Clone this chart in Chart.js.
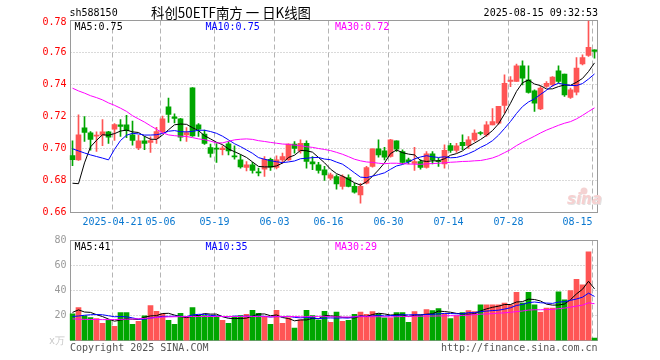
<!DOCTYPE html>
<html><head><meta charset="utf-8">
<script src="https://cdn.jsdelivr.net/npm/chart.js@4.4.1/dist/chart.umd.min.js"></script>
<style>
html,body{margin:0;padding:0;background:#fff;}
#wrap{position:relative;width:660px;height:360px;overflow:hidden;background:#fff;}
#wrap canvas{position:absolute;left:0;}
</style></head><body>
<div id="wrap">
<canvas id="pc" width="660" height="232" style="top:0px"></canvas>
<canvas id="vc" width="660" height="128" style="top:232px"></canvas>
</div>
<script>
// ---------------- DATA ----------------
const dates = [
'2025-04-10','2025-04-11','2025-04-14','2025-04-15','2025-04-16','2025-04-17','2025-04-18','2025-04-21','2025-04-22','2025-04-23',
'2025-04-24','2025-04-25','2025-04-28','2025-04-29','2025-04-30','2025-05-06','2025-05-07','2025-05-08','2025-05-09','2025-05-12',
'2025-05-13','2025-05-14','2025-05-15','2025-05-16','2025-05-19','2025-05-20','2025-05-21','2025-05-22','2025-05-23','2025-05-26',
'2025-05-27','2025-05-28','2025-05-29','2025-05-30','2025-06-03','2025-06-04','2025-06-05','2025-06-06','2025-06-09','2025-06-10',
'2025-06-11','2025-06-12','2025-06-13','2025-06-16','2025-06-17','2025-06-18','2025-06-19','2025-06-20','2025-06-23','2025-06-24',
'2025-06-25','2025-06-26','2025-06-27','2025-06-30','2025-07-01','2025-07-02','2025-07-03','2025-07-04','2025-07-07','2025-07-08',
'2025-07-09','2025-07-10','2025-07-11','2025-07-14','2025-07-15','2025-07-16','2025-07-17','2025-07-18','2025-07-21','2025-07-22',
'2025-07-23','2025-07-24','2025-07-25','2025-07-28','2025-07-29','2025-07-30','2025-07-31','2025-08-01','2025-08-04','2025-08-05',
'2025-08-06','2025-08-07','2025-08-08','2025-08-11','2025-08-12','2025-08-13','2025-08-14','2025-08-15'];

const openP = [0.6956,0.6929,0.7129,0.7098,0.7077,0.7083,0.7104,0.7121,0.7148,0.7148,
0.7085,0.7004,0.7048,0.7038,0.7063,0.7104,0.726,0.7198,0.7185,0.7085,
0.7379,0.7148,0.709,0.7006,0.6998,0.6992,0.7029,0.6952,0.6929,0.6881,
0.6898,0.6852,0.6871,0.6933,0.6881,0.6929,0.6929,0.7027,0.6985,0.7033,
0.6917,0.6898,0.6867,0.6815,0.6825,0.6763,0.6819,0.6763,0.671,0.6783,
0.6888,0.6998,0.6985,0.695,0.7048,0.6981,0.6929,0.6906,0.6919,0.6881,
0.6967,0.6921,0.6904,0.7019,0.6988,0.7038,0.7019,0.7054,0.7098,0.7085,
0.7148,0.7158,0.7269,0.7419,0.7419,0.7517,0.7429,0.736,0.7248,0.7388,
0.7398,0.7485,0.7465,0.7319,0.7352,0.7529,0.7581,0.7617];

const closeP = [0.693,0.7085,0.710,0.7056,0.7083,0.7104,0.7071,0.715,0.7138,0.7112,
0.705,0.7048,0.7031,0.705,0.7106,0.7185,0.7213,0.7188,0.7071,0.710,
0.7079,0.7121,0.7031,0.6969,0.6996,0.7002,0.6985,0.6948,0.6885,0.6898,
0.6863,0.6848,0.6933,0.6883,0.6929,0.695,0.7027,0.700,0.7033,0.6919,
0.6904,0.6863,0.6835,0.6835,0.6779,0.6825,0.6763,0.6727,0.6763,0.6881,
0.6998,0.696,0.6946,0.7054,0.6996,0.6913,0.6917,0.6919,0.6881,0.6967,
0.6929,0.6917,0.6988,0.6988,0.7017,0.7017,0.7054,0.7096,0.7094,0.7148,
0.7169,0.7263,0.7408,0.7427,0.7517,0.744,0.735,0.7283,0.7377,0.7408,
0.7446,0.7419,0.7335,0.7367,0.7502,0.7569,0.7633,0.7606];

const highP = [0.7048,0.721,0.72,0.7106,0.7104,0.7181,0.7108,0.7156,0.718,0.7208,
0.7171,0.7083,0.7075,0.7073,0.7133,0.7202,0.7315,0.7217,0.7188,0.713,
0.7381,0.7156,0.7115,0.7027,0.703,0.7017,0.7044,0.7017,0.696,0.6919,
0.6913,0.6877,0.695,0.694,0.6954,0.6971,0.7029,0.7044,0.7054,0.7048,
0.695,0.6913,0.6888,0.6846,0.6835,0.6835,0.6835,0.6783,0.6783,0.6888,
0.6998,0.7054,0.7008,0.7058,0.7048,0.6992,0.694,0.7008,0.693,0.6981,
0.6981,0.694,0.7023,0.7033,0.7033,0.7085,0.7075,0.7117,0.7106,0.7169,
0.725,0.7263,0.746,0.745,0.7527,0.7548,0.7517,0.7367,0.7388,0.7419,
0.745,0.7517,0.7465,0.7377,0.7569,0.7585,0.7798,0.7617];

const lowP = [0.6892,0.6925,0.7044,0.699,0.6981,0.7017,0.7031,0.705,0.7075,0.7067,
0.7021,0.6992,0.6992,0.6975,0.7031,0.7098,0.7163,0.716,0.7048,0.7044,
0.7075,0.7075,0.7025,0.6946,0.6913,0.696,0.696,0.6933,0.6877,0.686,
0.6846,0.6829,0.6825,0.6863,0.6873,0.6908,0.6925,0.6971,0.6971,0.6877,
0.6867,0.6846,0.68,0.6804,0.6746,0.6746,0.676,0.6721,0.6658,0.6779,
0.6883,0.6946,0.6929,0.6946,0.6981,0.6904,0.6904,0.6863,0.6871,0.6877,
0.6904,0.6888,0.6877,0.6975,0.6975,0.6992,0.700,0.7044,0.7085,0.7075,
0.7148,0.7152,0.7223,0.7387,0.7419,0.7398,0.7346,0.7231,0.7242,0.7381,
0.7388,0.7408,0.7325,0.7313,0.7335,0.7523,0.7575,0.7565];

const ma5P = [0.6783,0.678,0.691,0.701,0.7051,0.7086,0.7083,0.7093,0.7109,0.7115,
0.7104,0.7100,0.7076,0.7058,0.7057,0.7084,0.7117,0.7148,0.7153,0.7151,
0.7130,0.7112,0.7080,0.7060,0.7039,0.7024,0.6997,0.6980,0.6963,0.6944,
0.6916,0.6888,0.6885,0.6885,0.6891,0.6909,0.6944,0.6958,0.6988,0.6986,
0.6977,0.6944,0.6911,0.6871,0.6843,0.6827,0.6807,0.6786,0.6771,0.6792,
0.6826,0.6866,0.6910,0.6968,0.6991,0.6974,0.6965,0.6960,0.6925,0.6919,
0.6923,0.6923,0.6936,0.6958,0.6968,0.6985,0.7013,0.7034,0.7056,0.7082,
0.7112,0.7154,0.7216,0.7283,0.7357,0.7411,0.7428,0.7403,0.7393,0.7372,
0.7373,0.7387,0.7397,0.7395,0.7414,0.7438,0.7481,0.7535];

const ma10P = [0.6998,0.6985,0.6972,0.696,0.695,0.694,0.6929,0.6995,0.705,0.7083,
0.7095,0.7091,0.7084,0.7084,0.7086,0.7094,0.7108,0.7112,0.7105,0.7104,
0.7107,0.7114,0.7114,0.7106,0.7095,0.7077,0.7054,0.7030,0.7012,0.6991,
0.6970,0.6943,0.6933,0.6924,0.6917,0.6912,0.6916,0.6922,0.6936,0.6939,
0.6943,0.6944,0.6934,0.6930,0.6915,0.6902,0.6876,0.6848,0.6821,0.6818,
0.6827,0.6837,0.6848,0.6870,0.6891,0.6900,0.6916,0.6935,0.6947,0.6955,
0.6948,0.6944,0.6948,0.6942,0.6944,0.6954,0.6968,0.6985,0.7007,0.7025,
0.7049,0.7083,0.7125,0.7169,0.7219,0.7262,0.7291,0.7310,0.7338,0.7364,
0.7392,0.7408,0.7400,0.7394,0.7393,0.7406,0.7434,0.7466];

const ma30P = [0.7377,0.736,0.7346,0.733,0.7318,0.7304,0.7285,0.727,0.7252,0.7232,
0.7205,0.7185,0.7165,0.7142,0.712,0.7098,0.7085,0.708,0.7077,0.7075,
0.7068,0.706,0.7055,0.7046,0.7035,0.7035,0.7045,0.7054,0.7058,0.7060,
0.7057,0.7049,0.7044,0.7038,0.7033,0.7028,0.7026,0.7021,0.7018,0.7011,
0.7007,0.7000,0.6994,0.6987,0.6976,0.6964,0.6949,0.6933,0.6923,0.6916,
0.6913,0.6908,0.6905,0.6908,0.6908,0.6905,0.6903,0.6902,0.6901,0.6904,
0.6906,0.6908,0.6910,0.6914,0.6916,0.6919,0.6920,0.6923,0.6925,0.6932,
0.6941,0.6955,0.6974,0.6993,0.7018,0.7039,0.7058,0.7077,0.7097,0.7115,
0.7130,0.7145,0.7158,0.7168,0.7185,0.7207,0.7231,0.7254];

const volume = [21.3,26.3,19.7,18.4,17.6,13.7,16.4,11.3,22.4,22.4,
12.9,15.4,19.8,28,23.4,21.4,16.1,12.9,21.7,19.4,
26.4,20.2,20,19.5,19.5,16.1,13.7,18.8,20,21,
24.1,21.7,19.4,12.9,24.1,13.7,18.1,9.9,16.5,24.1,
20,16.4,23.3,14.6,22.7,15.4,16.2,20.9,22.7,20.9,
23.2,21.3,18.2,18.2,22.4,22.4,14.5,23.2,20.3,24.7,
24,25.5,21.3,17.6,20,22.4,24,23.2,28.5,28.5,
28.5,28.5,30,28.5,38.5,30,38.5,28.5,22.5,26,
26,39,32.5,40,49,44.5,71,2];

const ma5V = [22.5,24.5,22.8,22.5,20.66,19.14,17.16,15.48,16.28,17.24,
17.08,16.88,18.58,19.7,19.9,21.6,21.74,20.36,19.1,18.3,
19.3,20.12,21.54,21.1,21.12,19.06,17.76,17.52,17.62,17.92,
19.52,21.12,21.24,19.82,20.44,18.36,17.64,15.74,16.46,16.46,
17.72,17.38,20.06,19.68,19.4,18.48,18.44,17.96,19.58,19.22,
20.78,21.8,21.26,20.36,20.66,20.5,19.14,20.14,20.56,21.02,
21.34,23.54,23.16,22.62,21.68,21.36,21.06,21.44,23.62,25.32,
26.54,27.44,28.8,28.8,30.8,31.1,33.1,32.8,31.6,29.1,
28.3,28.4,29.2,32.7,37.3,41,47.4,41.3];

const ma10V = [19.2,19.6,20.2,20.6,20.8,20.6,19.8,19.0,19.2,18.95,
18.11,17.02,17.03,17.99,18.57,19.34,19.31,19.47,19.4,19.1,
20.45,20.93,20.95,20.1,19.71,19.18,18.94,19.53,19.36,19.52,
19.29,19.44,19.38,18.72,19.18,18.94,19.38,18.49,18.14,18.45,
18.04,17.51,17.9,18.07,17.93,18.1,17.91,19.01,19.63,19.31,
19.63,20.12,19.61,19.97,19.94,20.64,20.47,20.7,20.46,20.84,
20.92,21.34,21.65,21.59,21.35,21.35,22.3,22.3,23.12,23.5,
23.95,24.25,25.12,26.21,28.06,28.82,30.27,30.8,30.2,29.95,
29.7,30.75,31.0,32.15,33.2,34.65,37.9,35.25];

const ma30V = [17.3,17.1,16.9,16.8,16.8,16.7,16.7,16.8,16.9,17.0,
17.2,17.4,17.7,18.0,18.4,18.7,18.9,19.0,19.1,19.1,
19.2,19.2,19.2,19.2,19.2,19.2,19.2,19.2,19.2,19.19,
19.28,19.13,19.12,18.94,19.15,19.15,19.21,19.16,18.97,19.02,
19.26,19.29,19.41,18.96,18.94,18.74,18.74,19.01,19.04,19.09,
18.99,19.02,18.96,18.92,19.02,19.23,19.25,19.4,19.41,19.53,
19.53,19.66,19.72,19.88,19.74,20.03,20.23,20.67,21.07,21.22,
21.5,21.9,22.13,22.59,23.12,23.6,24.35,24.6,24.59,24.76,
24.86,25.45,25.92,26.65,27.54,28.27,30.16,29.45];

const tickDates = ['2025-04-21','2025-05-06','2025-05-19','2025-06-03','2025-06-16','2025-06-30','2025-07-14','2025-07-28','2025-08-15'];
const tickLabels = ['2025-04-21','05-06','05-19','06-03','06-16','06-30','07-14','07-28','08-15'];
const priceTicks = [0.78,0.76,0.74,0.72,0.70,0.68,0.66];
const volTicks = [80,60,40,20];

const codeText = 'sh588150';
const titleText = '科创50ETF南方 一 日K线图';
const timeText = '2025-08-15 09:32:53';
const priceLegend = ['MA5:0.75','MA10:0.75','MA30:0.72'];
const volLegend = ['MA5:41','MA10:35','MA30:29'];
const unitText = 'x万';
const copyText = 'Copyright 2025 SINA.COM';
const urlText = 'http://finance.sina.com.cn';

// ---------------- STYLE ----------------
const UP = '#ff5555', DOWN = '#00a600';
const C5 = '#000000', C10 = '#0000ff', C30 = '#ff00ff';
const FRAME = '#9a9a9a', GRID = '#b4b4b4';
const MONO = '10px "DejaVu Sans Mono", "Liberation Mono", monospace';
const LEFT = 69.5, RIGHT = 597.5;

const isUp = closeP.map((c, i) => c >= openP[i]);
const candleColors = isUp.map(u => u ? UP : DOWN);
const wickData = lowP.map((l, i) => [l, highP[i]]);
const bodyData = openP.map((o, i) => [Math.min(o, closeP[i]), Math.max(o, closeP[i])]);
const tickIdx = tickDates.map(d => dates.indexOf(d));

function crisp(v) { return Math.floor(v) + 0.5; }

function drawFrameGrid(chart, hTicks) {
  const {ctx, chartArea: a, scales: {x, y}} = chart;
  ctx.save();
  ctx.lineWidth = 1;
  ctx.strokeStyle = GRID;
  ctx.setLineDash([1, 2]);
  hTicks.forEach(v => {
    if (v > y.min && v < y.max) {
      const py = crisp(y.getPixelForValue(v));
      ctx.beginPath(); ctx.moveTo(a.left + 1, py); ctx.lineTo(a.right, py); ctx.stroke();
    }
  });
  ctx.setLineDash([5, 3]);
  tickIdx.forEach(i => {
    const px = crisp(x.getPixelForValue(i) - 2);
    ctx.beginPath(); ctx.moveTo(px, a.top); ctx.lineTo(px, a.bottom); ctx.stroke();
  });
  ctx.setLineDash([]);
  ctx.strokeStyle = FRAME;
  ctx.strokeRect(crisp(a.left + 1), crisp(a.top), Math.round(a.right - a.left - 1), Math.round(a.bottom - a.top));
  ctx.restore();
}

const pricePlugin = {
  id: 'pricePlugin',
  beforeDatasetsDraw(chart) {
    drawFrameGrid(chart, priceTicks);
    const {ctx} = chart;
    ctx.save();
    ctx.font = 'italic bold 15px "DejaVu Sans", sans-serif';
    ctx.fillStyle = '#e2e2e2';
    ctx.fillText('sina', 568, 205);
    ctx.fillStyle = '#f6d0d0';
    ctx.fillText('sina', 567, 204);
    ctx.beginPath(); ctx.arc(584, 191, 3.5, 0, Math.PI * 2); ctx.fillStyle = '#f4d2d2'; ctx.fill();
    ctx.restore();
  },
  afterDraw(chart) {
    const {ctx, chartArea: a, scales: {x, y}} = chart;
    ctx.save();
    ctx.font = MONO;
    ctx.textBaseline = 'middle';
    ctx.fillStyle = '#ff0000';
    ctx.textAlign = 'right';
    priceTicks.forEach(v => {
      let py = y.getPixelForValue(v);
      if (v === y.max) py += 2;
      ctx.fillText(v.toFixed(2), 66.5, py);
    });
    ctx.fillStyle = '#0a78d0';
    tickIdx.forEach((i, k) => {
      const px = Math.floor(x.getPixelForValue(i) - 2) + 0.5;
      const w = ctx.measureText(tickLabels[k]).width;
      if (px + w / 2 > a.right) { ctx.textAlign = 'right'; ctx.fillText(tickLabels[k], px, 222); }
      else { ctx.textAlign = 'center'; ctx.fillText(tickLabels[k], px, 222); }
    });
    ctx.textAlign = 'left';
    ctx.fillStyle = C5;  ctx.fillText(priceLegend[0], 74.5, 27);
    ctx.fillStyle = C10; ctx.fillText(priceLegend[1], 205.5, 27);
    ctx.fillStyle = C30; ctx.fillText(priceLegend[2], 335, 27);
    ctx.fillStyle = '#000';
    ctx.fillText(codeText, 69.5, 13);
    ctx.textAlign = 'right';
    ctx.fillText(timeText, 598, 13);
    ctx.textAlign = 'left';
    ctx.font = '14px "Noto Sans CJK SC", sans-serif';
    ctx.fillText(titleText, 151, 13, 160);
    ctx.restore();
  }
};

const volPlugin = {
  id: 'volPlugin',
  beforeDatasetsDraw(chart) { drawFrameGrid(chart, volTicks); },
  afterDraw(chart) {
    const {ctx, scales: {y}} = chart;
    ctx.save();
    ctx.font = MONO;
    ctx.textBaseline = 'middle';
    ctx.textAlign = 'right';
    ctx.fillStyle = '#999999';
    volTicks.forEach(v => ctx.fillText(String(v), 66.5, y.getPixelForValue(v)));
    ctx.fillStyle = '#c8c8c8';
    ctx.textAlign = 'left';
    ctx.fillText(unitText, 49, 109);
    ctx.fillStyle = C5;  ctx.fillText(volLegend[0], 74.5, 15);
    ctx.fillStyle = C10; ctx.fillText(volLegend[1], 205.5, 15);
    ctx.fillStyle = C30; ctx.fillText(volLegend[2], 335, 15);
    ctx.fillStyle = '#555555';
    ctx.fillText(copyText, 70, 116);
    ctx.textAlign = 'right';
    ctx.fillText(urlText, 597.5, 116);
    ctx.restore();
  }
};

function lineDs(data, color) {
  return {type: 'line', data, borderColor: color, borderWidth: 1, pointRadius: 0,
          tension: 0, fill: false, order: 0};
}

const common = {
  responsive: false, animation: false, devicePixelRatio: 1, events: [],
  plugins: {legend: {display: false}, tooltip: {enabled: false}}
};

new Chart(document.getElementById('pc'), {
  type: 'bar',
  data: {
    labels: dates,
    datasets: [
      {data: wickData, backgroundColor: candleColors, barThickness: 1, grouped: false, order: 2},
      {data: bodyData, backgroundColor: candleColors, barThickness: 5, grouped: false, minBarLength: 1, order: 1},
      lineDs(ma30P, C30), lineDs(ma10P, C10), lineDs(ma5P, C5)
    ]
  },
  options: Object.assign({}, common, {
    layout: {padding: {left: LEFT, right: 660 - RIGHT, top: 20.5, bottom: 232 - 212.5}},
    scales: {
      x: {type: 'category', offset: true, display: false},
      y: {min: 0.66, max: 0.78, display: false}
    }
  }),
  plugins: [pricePlugin]
});

const volColors = volume.map((v, i) => isUp[i] ? UP : DOWN);
new Chart(document.getElementById('vc'), {
  type: 'bar',
  data: {
    labels: dates,
    datasets: [
      {data: volume, backgroundColor: volColors, barThickness: 5, grouped: false, order: 1},
      lineDs(ma30V, C30), lineDs(ma10V, C10), lineDs(ma5V, C5)
    ]
  },
  options: Object.assign({}, common, {
    layout: {padding: {left: LEFT, right: 660 - RIGHT, top: 8.5, bottom: 128 - 108.5}},
    scales: {
      x: {type: 'category', offset: true, display: false},
      y: {min: 0, max: 80, display: false}
    }
  }),
  plugins: [volPlugin]
});
</script>
</body></html>
